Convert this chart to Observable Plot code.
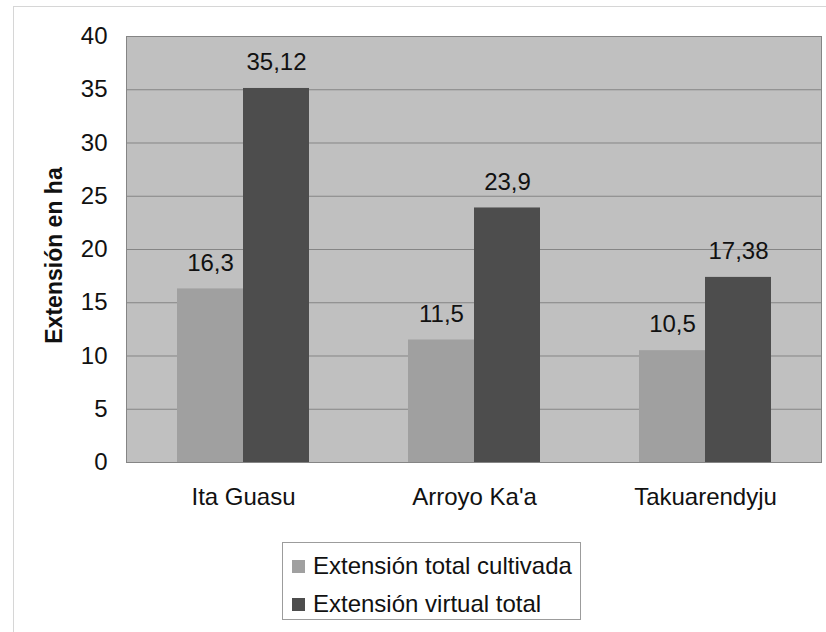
<!DOCTYPE html>
<html>
<head>
<meta charset="utf-8">
<script src="https://cdn.jsdelivr.net/npm/d3@7"></script>
<script src="https://cdn.jsdelivr.net/npm/@observablehq/plot@0.6"></script>
<style>
  html, body { margin: 0; padding: 0; background: #fff; overflow: hidden; width: 826px; height: 632px; }
  body { font-family: "Liberation Sans", Arial, sans-serif; position: relative; }
  #outer { position: absolute; left: 13px; top: 6px; width: 840px; height: 650px; border: 1px solid #d6d6d6; pointer-events: none; }
  #chart { position: absolute; left: 0; top: 0; }
  #legend { position: absolute; left: 282px; top: 542px; width: 297px; height: 76px; border: 1px solid #9c9c9c; background: #fff; box-sizing: content-box; }
  .row { position: absolute; left: 9px; display: flex; align-items: center; font-size: 24px; color: #111; white-space: nowrap; height: 30px; }
  .sw { width: 13px; height: 13px; margin-right: 8px; }
</style>
</head>
<body>
<div id="outer"></div>
<div id="chart"></div>
<div id="legend"></div>
<script>
const categories = ["Ita Guasu", "Arroyo Ka'a", "Takuarendyju"];
const cultivada = [16.3, 11.5, 10.5];
const virtualTotal = [35.12, 23.9, 17.38];
const cultivadaLabels = ["16,3", "11,5", "10,5"];
const virtualLabels = ["35,12", "23,9", "17,38"];
const yTicks = [0, 5, 10, 15, 20, 25, 30, 35, 40];
const seriesNames = ["Extensión total cultivada", "Extensión virtual total"];
const seriesColors = ["#a0a0a0", "#4d4d4d"];
const yLabel = "Extensión en ha";

const rowsC = categories.map((c, i) => ({cat: c, value: cultivada[i], label: cultivadaLabels[i]}));
const rowsV = categories.map((c, i) => ({cat: c, value: virtualTotal[i], label: virtualLabels[i]}));

const half = 66;

const plot = Plot.plot({
  width: 826,
  height: 536,
  marginLeft: 126,
  marginRight: 5,
  marginTop: 36,
  marginBottom: 74,
  style: {fontFamily: "'Liberation Sans', Arial, sans-serif", fontSize: "24px", color: "#111", background: "transparent"},
  x: {type: "band", domain: categories, paddingInner: 0.43, paddingOuter: 0.215, align: 0.5},
  y: {domain: [0, 40]},
  marks: [
    Plot.frame({fill: "#c0c0c0"}),
    Plot.gridY(yTicks, {stroke: "#858585", strokeOpacity: 1, strokeWidth: 1}),
    Plot.barY(rowsC, {x: "cat", y: "value", fill: seriesColors[0], insetRight: half}),
    Plot.barY(rowsV, {x: "cat", y: "value", fill: seriesColors[1], insetLeft: half}),
    Plot.frame({stroke: "#858585"}),
    Plot.text(rowsC, {x: "cat", y: "value", text: "label", dx: -half / 2, dy: -26, fill: "#111", fontSize: 24}),
    Plot.text(rowsV, {x: "cat", y: "value", text: "label", dx: half / 2, dy: -26, fill: "#111", fontSize: 24}),
    Plot.axisY({ticks: yTicks, tickSize: 0, tickPadding: 19, label: null, fill: "#111"}),
    Plot.axisX({tickSize: 0, tickPadding: 25, label: null, fill: "#111"}),
    Plot.text([yLabel], {frameAnchor: "left", textAnchor: "middle", rotate: -90, dx: -72, dy: 6, fontWeight: "bold", fontSize: 23, fill: "#111"})
  ]
});
document.getElementById("chart").appendChild(plot);

const legend = document.getElementById("legend");
seriesNames.forEach((name, i) => {
  const row = document.createElement("div");
  row.className = "row";
  row.style.top = (8 + i * 38) + "px";
  const sw = document.createElement("span");
  sw.className = "sw";
  sw.style.background = seriesColors[i];
  const t = document.createElement("span");
  t.textContent = name;
  row.appendChild(sw);
  row.appendChild(t);
  legend.appendChild(row);
});
</script>
</body>
</html>
